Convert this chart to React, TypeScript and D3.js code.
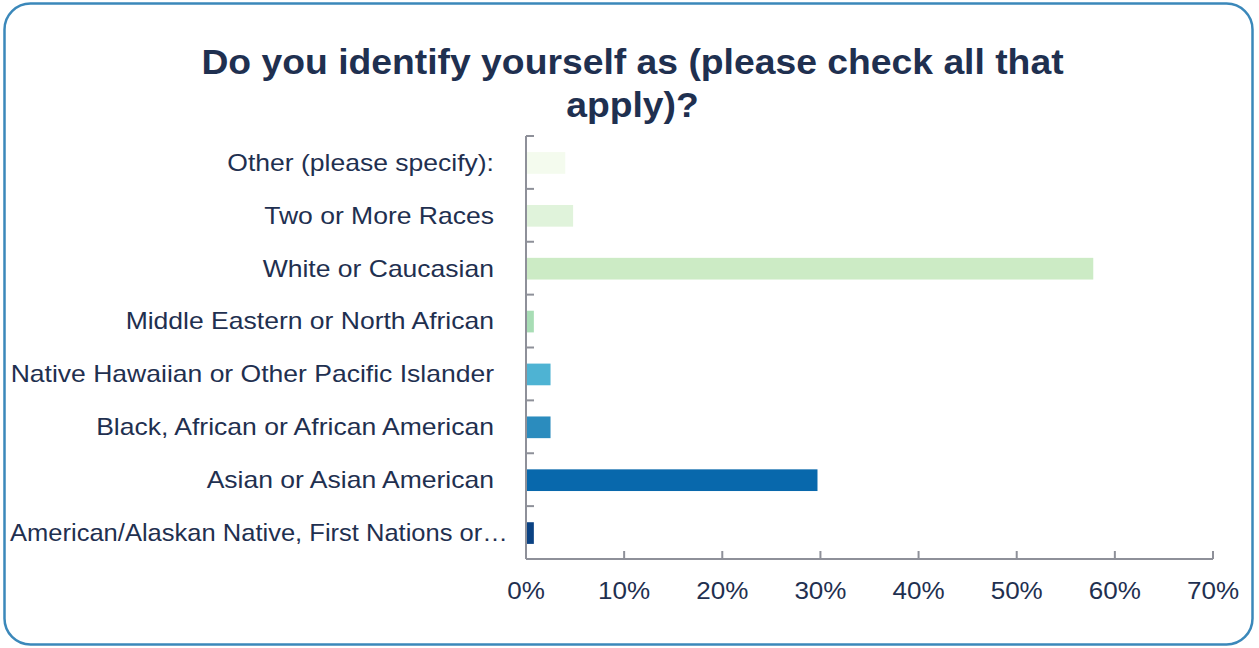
import React from "react";
import * as d3 from "d3";

// Survey responses, listed top to bottom as drawn
const categories = [
  "Other (please specify):",
  "Two or More Races",
  "White or Caucasian",
  "Middle Eastern or North African",
  "Native Hawaiian or Other Pacific Islander",
  "Black, African or African American",
  "Asian or Asian American",
  "American/Alaskan Native, First Nations or…",
];
const percents = [4.0, 4.8, 57.8, 0.8, 2.5, 2.5, 29.7, 0.8];
const barColors = [
  "#f4fbee",
  "#e0f3db",
  "#ccebc5",
  "#a8ddb5",
  "#4eb3d3",
  "#2b8cbe",
  "#0868ac",
  "#0b4283",
];
const xTicks = [0, 10, 20, 30, 40, 50, 60, 70];
const titleLines = ["Do you identify yourself as (please check all that", "apply)?"];

const W = 1259;
const H = 648;
const plot = { left: 526, right: 1213, top: 136, bottom: 559 };
const textColor = "#1f3050";
const axisColor = "#8e9099";
const font = "Arial, 'Liberation Sans', Helvetica, sans-serif";

// text in this chart is set slightly wide; stretch horizontally around its anchor
const wide = (x: number, y: number, sx: number) => `translate(${x},${y}) scale(${sx},1)`;

export default function App() {
  const x = d3.scaleLinear().domain([0, 70]).range([plot.left, plot.right]);
  const y = d3.scaleBand<string>().domain(categories).range([plot.top, plot.bottom]).padding(0);
  const bw = y.bandwidth();
  const barH = bw * 0.41;
  const bandEdges = categories.map((c) => y(c) as number).concat([plot.bottom]);

  return (
    <svg
      width={W}
      height={H}
      viewBox={`0 0 ${W} ${H}`}
      style={{ position: "absolute", left: 0, top: 0, background: "#fff" }}
      fontFamily={font}
    >
      <rect x={4.5} y={3.5} width={1248} height={641} rx={26} ry={26} fill="#fff" stroke="#3b88ba" strokeWidth={2.5} />

      {titleLines.map((t, i) => (
        <text
          key={t}
          transform={wide(632.5, 74 + i * 43, 1.066)}
          textAnchor="middle"
          fontSize={35}
          fontWeight="bold"
          fill={textColor}
        >
          {t}
        </text>
      ))}

      {categories.map((c, i) => (
        <rect
          key={c}
          x={x(0) + 1}
          y={(y(c) as number) + (bw - barH) / 2 + 0.5}
          width={x(percents[i]) - x(0) - 1}
          height={barH}
          fill={barColors[i]}
        />
      ))}

      {/* category axis */}
      <line x1={plot.left} x2={plot.left} y1={plot.top} y2={plot.bottom} stroke={axisColor} strokeWidth={2} />
      {bandEdges.map((e, i) => (
        <line key={i} x1={plot.left} x2={plot.left + 8} y1={e} y2={e} stroke={axisColor} strokeWidth={2} />
      ))}
      {categories.map((c) => {
        const truncated = c.endsWith("…");
        return (
          <text
            key={c}
            transform={wide(truncated ? 10 : 494, (y(c) as number) + bw / 2, truncated ? 1.064 : 1.105)}
            dy="0.35em"
            textAnchor={truncated ? "start" : "end"}
            fontSize={24}
            fill={textColor}
          >
            {c}
          </text>
        );
      })}

      {/* value axis */}
      <line x1={plot.left} x2={plot.right} y1={plot.bottom} y2={plot.bottom} stroke={axisColor} strokeWidth={2} />
      {xTicks.map((t) => (
        <g key={t}>
          <line x1={x(t)} x2={x(t)} y1={plot.bottom} y2={plot.bottom - 8} stroke={axisColor} strokeWidth={2} />
          <text transform={wide(x(t), 599, 1.085)} textAnchor="middle" fontSize={24} fill={textColor}>
            {`${t}%`}
          </text>
        </g>
      ))}
    </svg>
  );
}
